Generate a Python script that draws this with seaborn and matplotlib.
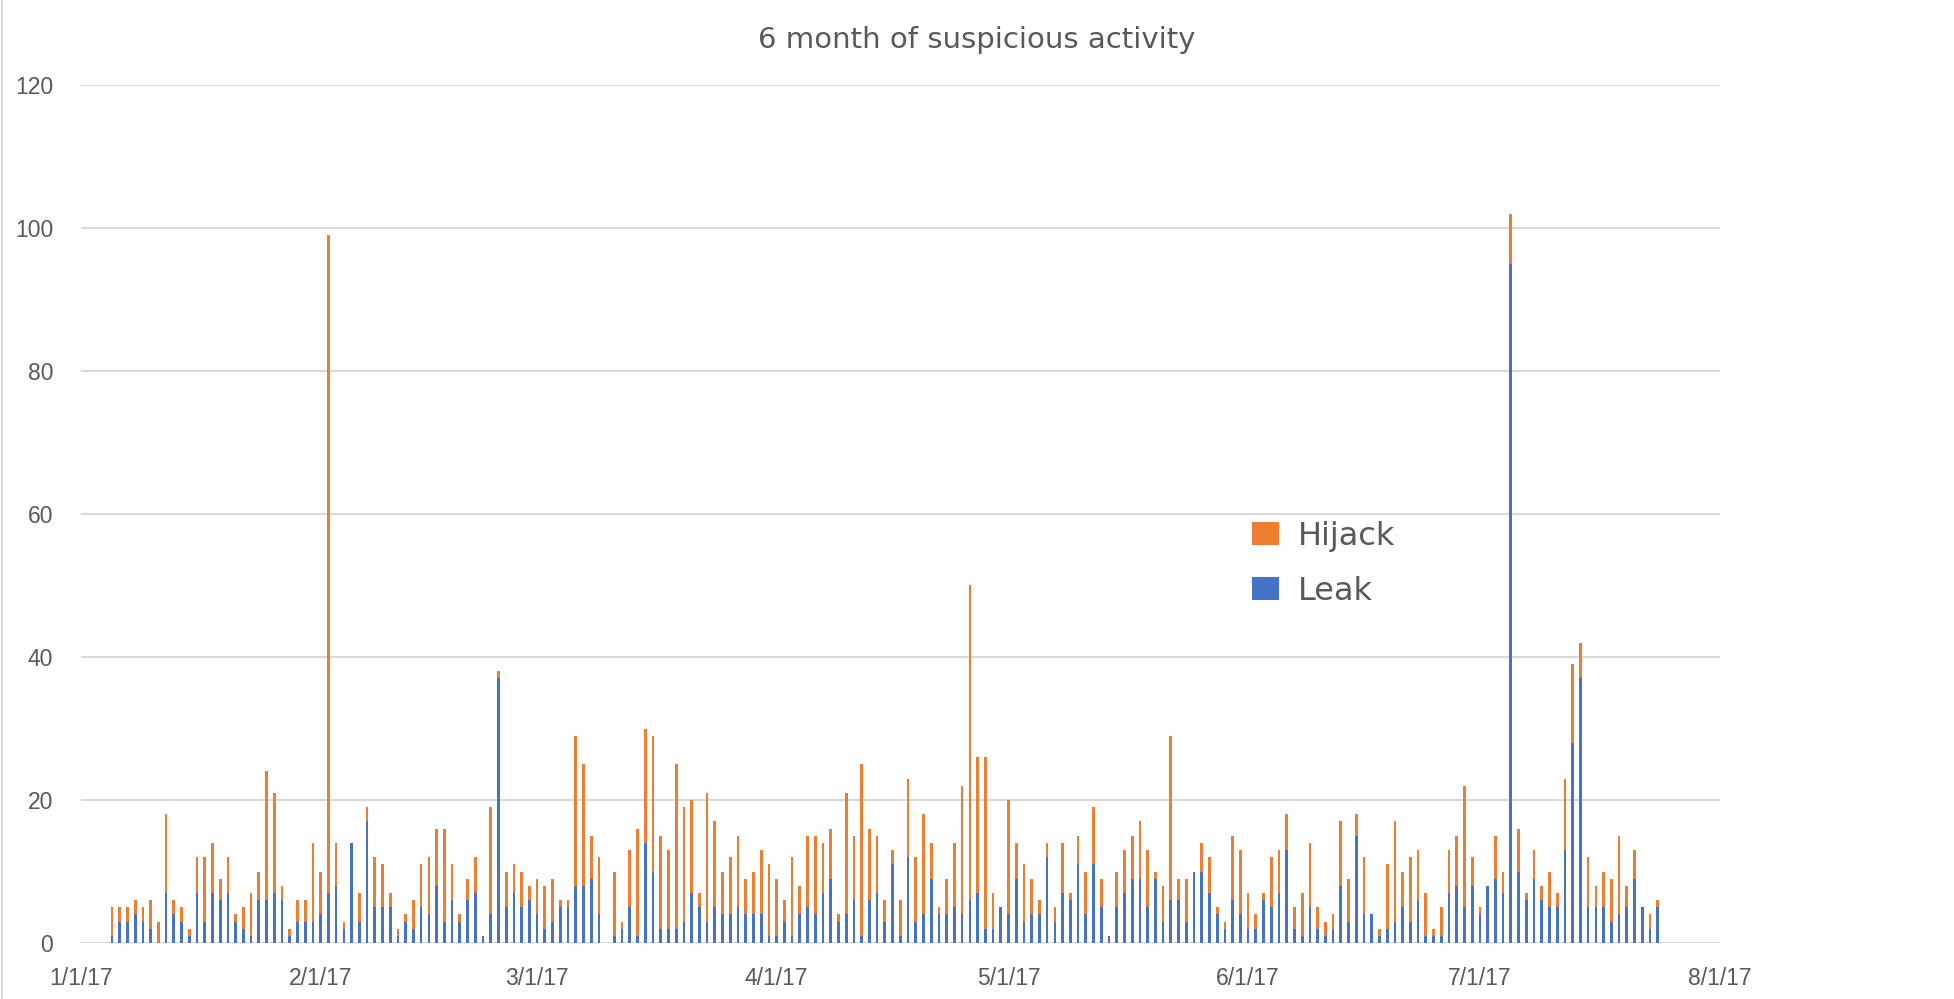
import pandas as pd
import matplotlib.pyplot as plt
import matplotlib.dates as mdates
from matplotlib.patches import Patch
from matplotlib.lines import Line2D
import seaborn as sns

# daily counts, first bar on 1/5/17, one value per day
start_day = '2017-01-05'

leak = [
    1, 3, 3, 4, 3, 2, 0, 7, 4, 3, 1, 7, 3, 7, 6, 7, 3, 2, 1, 6, 6, 7,
    6, 1, 3, 3, 3, 4, 7, 8, 2, 14, 3, 17, 5, 5, 5, 1, 3, 2, 5, 4, 8, 3,
    6, 3, 6, 7, 1, 4, 37, 5, 7, 5, 6, 4, 2, 3, 5, 5, 8, 8, 9, 4, 0, 1,
    2, 5, 1, 14, 10, 2, 2, 2, 3, 7, 5, 3, 5, 4, 4, 5, 4, 4, 4, 1, 1, 3,
    1, 4, 5, 4, 7, 9, 3, 4, 6, 1, 6, 7, 3, 11, 1, 12, 3, 4, 9, 4, 4, 5,
    4, 6, 7, 2, 2, 5, 4, 9, 3, 4, 4, 12, 3, 7, 6, 11, 4, 11, 5, 1, 5, 7,
    9, 9, 5, 9, 3, 6, 6, 3, 10, 10, 7, 4, 2, 6, 4, 2, 2, 6, 5, 7, 13, 2,
    1, 5, 2, 1, 2, 8, 3, 15, 4, 4, 1, 2, 3, 5, 3, 6, 1, 1, 1, 7, 8, 5,
    8, 4, 8, 9, 7, 95, 10, 6, 9, 6, 5, 5, 13, 28, 37, 5, 5, 5, 3, 4, 5, 9, 5, 2, 5,
]

hijack = [
    4, 2, 2, 2, 2, 4, 3, 11, 2, 2, 1, 5, 9, 7, 3, 5, 1, 3, 6, 4, 18, 14,
    2, 1, 3, 3, 11, 6, 92, 6, 1, 0, 4, 2, 7, 6, 2, 1, 1, 4, 6, 8, 8, 13,
    5, 1, 3, 5, 0, 15, 1, 5, 4, 5, 2, 5, 6, 6, 1, 1, 21, 17, 6, 8, 0, 9,
    1, 8, 15, 16, 19, 13, 11, 23, 16, 13, 2, 18, 12, 6, 8, 10, 5, 6, 9, 10, 8, 3,
    11, 4, 10, 11, 7, 7, 1, 17, 9, 24, 10, 8, 3, 2, 5, 11, 9, 14, 5, 1, 5, 9,
    18, 44, 19, 24, 5, 0, 16, 5, 8, 5, 2, 2, 2, 7, 1, 4, 6, 8, 4, 0, 5, 6,
    6, 8, 8, 1, 5, 23, 3, 6, 0, 4, 5, 1, 1, 9, 9, 5, 2, 1, 7, 6, 5, 3,
    6, 9, 3, 2, 2, 9, 6, 3, 8, 0, 1, 9, 14, 5, 9, 7, 6, 1, 4, 6, 7, 17,
    4, 1, 0, 6, 3, 7, 6, 1, 4, 2, 5, 2, 10, 11, 5, 7, 3, 5, 6, 11, 3, 4, 0, 2, 1,
]

kinds = ['Hijack', 'Leak']
colors = {'Hijack': '#ED7D31', 'Leak': '#4472C4'}
y_ticks = [0, 20, 40, 60, 80, 100, 120]

sns.set_theme(style='white')
plt.rcParams['font.family'] = ['Liberation Sans', 'DejaVu Sans']

n = len(leak)
days = pd.date_range(start_day, periods=n, freq='D')
day_num = list(mdates.date2num(days))
df = pd.DataFrame({
    'day': day_num * 2,
    'kind': ['Leak'] * n + ['Hijack'] * n,
    'count': leak + hijack,
})

fig = plt.figure(figsize=(19.54, 9.99), dpi=100)
ax = fig.add_axes([0.0415, 0.056, 0.8385, 0.859])

sns.histplot(data=df, x='day', weights='count', hue='kind', hue_order=kinds,
             multiple='stack', discrete=True, shrink=0.35, palette=colors,
             linewidth=0, alpha=1, legend=False, ax=ax)

month_ticks = pd.date_range('2017-01-01', '2017-08-01', freq='MS')
ax.set_xlim(mdates.date2num(month_ticks[0]), mdates.date2num(month_ticks[-1]))
ax.set_xticks(mdates.date2num(month_ticks))
ax.set_xticklabels([f"{d.month}/{d.day}/{d.strftime('%y')}" for d in month_ticks])
ax.set_ylim(0, 120)
ax.set_yticks(y_ticks)

ax.grid(axis='y', color='#D9D9D9', linewidth=1.5)
ax.set_axisbelow(True)
for s in ax.spines.values():
    s.set_visible(False)
ax.tick_params(axis='both', length=0, labelsize=16.5, labelcolor='#595959')
ax.tick_params(axis='y', pad=20)
ax.tick_params(axis='x', pad=17)
ax.set_xlabel('')
ax.set_ylabel('')

fig.suptitle('6 month of suspicious activity', x=0.5, y=0.974, fontsize=21,
             color='#595959', family='DejaVu Sans')

handles = [Patch(facecolor=colors[k], edgecolor='none') for k in kinds]
ax.legend(handles, kinds, loc='center left', bbox_to_anchor=(0.697, 0.442),
          frameon=False, labelcolor='#595959',
          handlelength=0.85, handleheight=0.75, handletextpad=0.6,
          labelspacing=0.75, prop={'family': 'DejaVu Sans', 'size': 23})

fig.add_artist(Line2D([0.001, 0.001], [0, 1], transform=fig.transFigure,
                      color='#D9D9D9', linewidth=1.5))

fig.savefig('out.png', dpi=100)
